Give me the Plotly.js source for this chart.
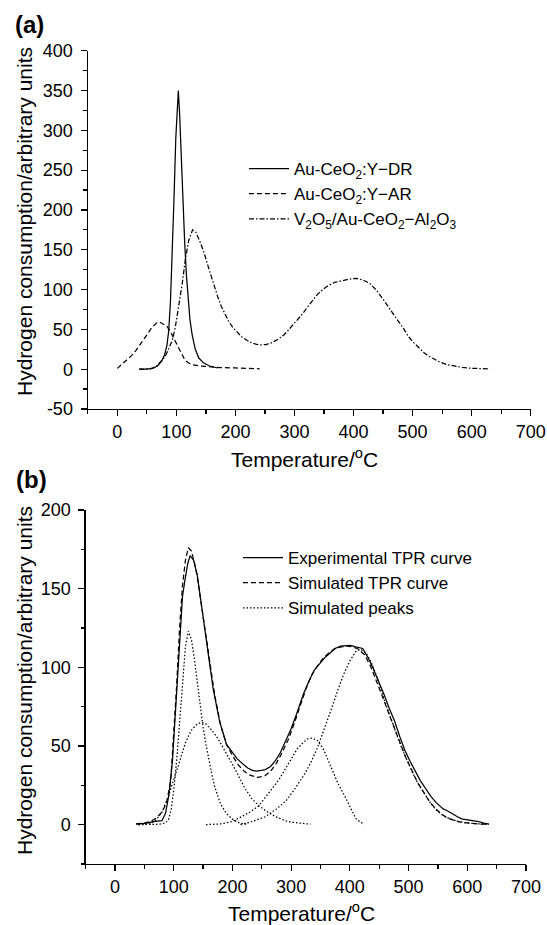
<!DOCTYPE html>
<html>
<head>
<meta charset="utf-8">
<script src="https://cdn.plot.ly/plotly-3.0.1.min.js"></script>
<style>html,body{margin:0;padding:0;background:#fff;}#chart{width:547px;height:925px;}</style>
</head>
<body>
<div id="chart"></div>
<script>
// ---------- Panel (a) ----------
const aDR_T = [37, 50, 60, 68, 75, 80, 84, 87, 90, 93, 96, 99, 101.5, 103.3, 105.5, 108, 111, 114, 117, 120, 123, 127, 132, 138, 146, 156, 170];
const aDR_H = [0, 0, 1, 4, 10, 18, 30, 48, 85, 140, 215, 290, 335, 350, 320, 265, 205, 160, 118, 85, 62, 42, 25, 14, 8, 4, 1.5];

const aAR_T = [0, 8, 15, 24, 32, 40, 50, 58, 64, 68, 72, 78, 84, 90, 96, 102, 108, 114, 120, 128, 140, 155, 175, 200, 220, 241];
const aAR_H = [1, 6, 11, 17, 24, 32, 43, 52, 57, 59, 59, 57, 54, 47, 38, 29, 19, 12, 8, 5.5, 4, 3, 2, 1.5, 1, 0.5];

const aV_T = [37, 55, 65, 72, 78, 83, 88, 93, 98, 102, 106, 110, 115, 121, 127.5, 133, 140, 147, 153, 159, 165, 170, 176, 182, 189, 196, 204, 211, 220, 228, 236, 244, 252, 262, 272, 282, 292, 303, 313, 321, 330, 339, 348, 357, 368, 380, 392, 404, 416, 427, 433, 439, 448, 457, 466, 475, 484, 492, 501, 510, 519, 528, 537, 546, 557, 569, 584, 599, 615, 631];
const aV_H = [0, 0.5, 3, 8, 13, 19, 27, 36, 52, 70, 88, 108, 137, 162, 175, 172, 160, 146, 131, 116, 103, 91, 79, 69, 59.5, 52, 45.5, 40.5, 36, 33, 31.2, 30.5, 31, 33.5, 37.5, 43, 51, 60, 69, 77, 86, 94, 100, 105, 109, 111, 113, 114, 112, 108, 104, 99, 90, 80, 70, 61, 52, 42, 34, 27, 21, 16, 12, 9, 6, 4, 2.2, 1.2, 0.6, 0.3];

const aNames = ["Au-CeO<sub>2</sub>:Y\u2212DR", "Au-CeO<sub>2</sub>:Y\u2212AR", "V<sub>2</sub>O<sub>5</sub>/Au-CeO<sub>2</sub>\u2212Al<sub>2</sub>O<sub>3</sub>"];

// ---------- Panel (b) ----------
const bExp_T = [36, 54, 65, 75, 80, 86, 92, 98, 104, 110, 115, 119, 124, 128, 134, 140, 149, 158, 167, 178, 190, 200, 208, 218, 226, 234, 241, 249, 256, 265, 274, 282, 291, 300, 309, 321, 330, 339, 348, 357, 366, 375, 384, 393, 401, 410, 416, 422, 428, 434, 440, 446, 452, 458, 467, 476, 485, 494, 503, 512, 520, 529, 538, 547, 553, 559, 565, 571, 577, 583, 592, 601, 610, 619, 628, 637];
const bExp_H = [0.3, 1, 2, 2.5, 2.5, 7, 19, 41, 79, 121, 145, 155, 166, 171, 168, 159, 136, 110, 87, 66, 51, 46, 42, 38.5, 36, 34.5, 34, 34.5, 35, 37, 41, 46, 53, 61, 70, 83, 91, 98, 102, 106, 109, 112, 113.5, 114, 114, 113, 112.5, 112, 108, 104, 99, 94, 89, 83, 74, 66, 56, 47, 40, 34, 28, 23, 18, 14, 12, 10, 9, 8, 6.5, 5, 3.5, 3, 2.5, 2, 1, 0.4];

const bSim_T = [36, 50, 60, 70, 80, 88, 95, 100, 105, 110, 115, 120, 125, 130, 135, 140, 150, 160, 170, 180, 190, 200, 210, 220, 230, 243, 255, 265, 275, 285, 295, 305, 315, 325, 335, 345, 355, 365, 375, 385, 395, 405, 415, 425, 435, 445, 455, 465, 475, 485, 495, 505, 515, 525, 535, 545, 555, 565, 575, 590, 605, 620, 637];
const bSim_H = [0.5, 1, 2, 4, 8, 14, 28, 55, 88, 125, 152, 168, 176, 174, 167, 158, 133, 106, 82, 63, 51, 44, 38, 34, 31.5, 30, 31, 34, 39, 46, 54, 64, 75, 86, 95, 101, 106, 109.5, 112, 113, 113.5, 113, 111.5, 108, 101, 92, 82, 72, 62, 52, 43, 35, 27, 21, 15, 10.5, 7, 4.5, 3, 1.5, 0.8, 0.4, 0.2];

const bP1_T = [40, 60, 76, 85, 91, 96, 101, 106, 111, 116, 120, 125, 130, 135, 140, 145, 150, 155, 160, 165, 170, 180, 190, 200, 212, 225];
const bP1_H = [0, 0, 0.3, 1, 3, 10, 25, 45, 70, 95, 113, 123, 118, 106, 90, 76, 62, 51, 41, 32, 24, 13, 7, 3.5, 1, 0.2];

const bP2_T = [40, 60, 70, 80, 90, 100, 110, 120, 130, 140, 148, 155, 165, 175, 190, 205, 220, 232, 245, 260, 274, 290, 303, 318, 333];
const bP2_H = [0, 0.5, 3, 8, 17, 28, 40, 52, 60, 64, 65, 64, 60, 55, 45, 35, 24, 17, 12, 8, 5, 2.5, 1.5, 0.7, 0.3];

const bP3_T = [155, 180, 200, 214, 230, 245, 256, 270, 280, 291, 300, 310, 320, 328, 336, 345, 355, 363, 372, 380, 393, 402, 410, 418, 425];
const bP3_H = [0, 0.5, 2, 5, 8, 12, 17, 24, 29, 36, 42, 48, 52, 54.5, 55, 53.5, 48, 41, 33, 26, 17, 10, 4, 1.5, 0.5];

const bP4_T = [214, 230, 256, 275, 291, 305, 321, 333, 345, 357, 369, 380, 390, 400, 410, 418, 428, 438, 448, 458, 468, 478, 488, 498, 508, 518, 528, 538, 548, 558, 570, 585, 600, 618, 635];
const bP4_H = [0, 1.5, 5, 10, 15, 22, 31, 39, 49, 61, 74, 86, 96, 104, 110, 111.5, 109, 102, 92, 80, 69, 59, 49, 40, 32, 25, 19, 13.5, 9, 6, 3.8, 2, 1, 0.4, 0.2];

const bNames = ["Experimental TPR curve", "Simulated TPR curve", "Simulated peaks"];

const xTickVals = [0, 100, 200, 300, 400, 500, 600, 700];
const yTickValsA = [-50, 0, 50, 100, 150, 200, 250, 300, 350, 400];
const yTickValsB = [0, 50, 100, 150, 200];

// ---------- styles ----------
const LW = 1.25;
const solid = {color: '#000', width: LW, dash: 'solid'};
const dashed = {color: '#000', width: LW, dash: '5px,3px'};
const dashdot = {color: '#000', width: LW, dash: '5px,2px,1.5px,2px'};
const dotted = {color: '#000', width: LW, dash: '1.5px,2px'};

const traces = [
  {x: aDR_T, y: aDR_H, name: aNames[0], line: solid, xaxis: 'x', yaxis: 'y', legend: 'legend'},
  {x: aAR_T, y: aAR_H, name: aNames[1], line: dashed, xaxis: 'x', yaxis: 'y', legend: 'legend'},
  {x: aV_T, y: aV_H, name: aNames[2], line: dashdot, xaxis: 'x', yaxis: 'y', legend: 'legend'},
  {x: bExp_T, y: bExp_H, name: bNames[0], line: solid, xaxis: 'x2', yaxis: 'y2', legend: 'legend2'},
  {x: bSim_T, y: bSim_H, name: bNames[1], line: dashed, xaxis: 'x2', yaxis: 'y2', legend: 'legend2'},
  {x: bP1_T, y: bP1_H, name: bNames[2], line: dotted, xaxis: 'x2', yaxis: 'y2', legend: 'legend2'},
  {x: bP2_T, y: bP2_H, name: bNames[2], line: dotted, xaxis: 'x2', yaxis: 'y2', legend: 'legend2', showlegend: false},
  {x: bP3_T, y: bP3_H, name: bNames[2], line: dotted, xaxis: 'x2', yaxis: 'y2', legend: 'legend2', showlegend: false},
  {x: bP4_T, y: bP4_H, name: bNames[2], line: dotted, xaxis: 'x2', yaxis: 'y2', legend: 'legend2', showlegend: false}
].map(t => Object.assign({type: 'scatter', mode: 'lines', hoverinfo: 'skip'}, t));

const W = 547, H = 925;
const px = v => v / W;
const py = v => 1 - v / H;

function xAxis(dom, anchor) {
  return {
    domain: dom, anchor: anchor, range: [-50, 700],
    tickmode: 'array', tickvals: xTickVals, ticktext: xTickVals.map(String),
    ticks: 'outside', ticklen: 6, tickwidth: 1.2, tickcolor: '#000',
    minor: {tickmode: 'linear', tick0: 0, dtick: 50, ticks: 'outside', ticklen: 3.5, tickwidth: 1.2, tickcolor: '#000', showgrid: false},
    showline: true, linecolor: '#000', linewidth: 1.3, showgrid: false, zeroline: false,
    tickfont: {size: 18, color: '#000'}, fixedrange: true
  };
}
function yAxis(dom, anchor, range, vals) {
  return {
    domain: dom, anchor: anchor, range: range,
    tickmode: 'array', tickvals: vals, ticktext: vals.map(String),
    ticks: 'outside', ticklen: 6, tickwidth: 1.2, tickcolor: '#000',
    minor: {tickmode: 'linear', tick0: 0, dtick: 25, ticks: 'outside', ticklen: 3.5, tickwidth: 1.2, tickcolor: '#000', showgrid: false},
    showline: true, linecolor: '#000', linewidth: 1.3, showgrid: false, zeroline: false,
    tickfont: {size: 18, color: '#000'}, ticklabelstandoff: 4, fixedrange: true
  };
}

const titleFont = {size: 21, color: '#000', family: 'Liberation Sans, Arial, sans-serif'};
const layout = {
  width: W, height: H,
  margin: {l: 0, r: 0, t: 0, b: 0},
  paper_bgcolor: '#fff', plot_bgcolor: '#fff',
  font: {family: 'Liberation Sans, Arial, sans-serif', color: '#000', size: 17},
  showlegend: true,
  xaxis: xAxis([px(87.8), px(530.7)], 'y'),
  yaxis: yAxis([py(409), py(50.7)], 'x', [-50, 400], yTickValsA),
  xaxis2: xAxis([px(85.6), px(526)], 'y2'),
  yaxis2: yAxis([py(864), py(510)], 'x2', [-25, 200], yTickValsB),
  legend: {x: px(244), y: py(151), xanchor: 'left', yanchor: 'top', bgcolor: 'rgba(0,0,0,0)', borderwidth: 0,
           font: {size: 17, color: '#000'}, itemwidth: 40, tracegroupgap: 0},
  legend2: {x: px(238), y: py(540), xanchor: 'left', yanchor: 'top', bgcolor: 'rgba(0,0,0,0)', borderwidth: 0,
           font: {size: 17, color: '#000'}, itemwidth: 40, tracegroupgap: 0},
  annotations: [
    {text: '<b>(a)</b>', xref: 'paper', yref: 'paper', x: px(13), y: py(25), xanchor: 'left', yanchor: 'middle', showarrow: false, font: {size: 24, color: '#000'}},
    {text: '<b>(b)</b>', xref: 'paper', yref: 'paper', x: px(14), y: py(479), xanchor: 'left', yanchor: 'middle', showarrow: false, font: {size: 24, color: '#000'}},
    {text: 'Hydrogen consumption/arbitrary units', xref: 'paper', yref: 'paper', x: px(24), y: py(222), textangle: -90, xanchor: 'center', yanchor: 'middle', showarrow: false, font: titleFont},
    {text: 'Hydrogen consumption/arbitrary units', xref: 'paper', yref: 'paper', x: px(24), y: py(681), textangle: -90, xanchor: 'center', yanchor: 'middle', showarrow: false, font: titleFont},
    {text: 'Temperature/<sup>o</sup>C', xref: 'paper', yref: 'paper', x: px(304), y: py(458), xanchor: 'center', yanchor: 'middle', showarrow: false, font: titleFont},
    {text: 'Temperature/<sup>o</sup>C', xref: 'paper', yref: 'paper', x: px(301), y: py(912), xanchor: 'center', yanchor: 'middle', showarrow: false, font: titleFont}
  ]
};

Plotly.newPlot('chart', traces, layout, {staticPlot: true, displayModeBar: false});
</script>
</body>
</html>
